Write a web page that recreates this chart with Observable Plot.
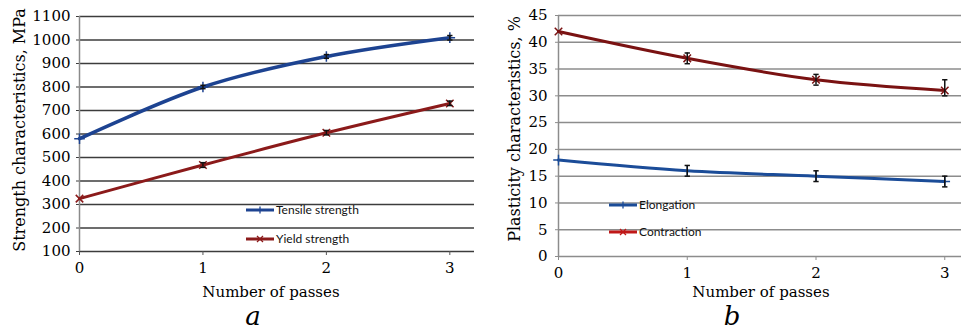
<!DOCTYPE html>
<html><head><meta charset="utf-8">
<script src="https://cdn.jsdelivr.net/npm/d3@7"></script>
<script src="https://cdn.jsdelivr.net/npm/@observablehq/plot@0.6"></script>
<style>
body{margin:0;background:#fff;}
#wrap{position:relative;width:961px;height:331px;overflow:hidden;background:#fff;}
.abs{position:absolute;white-space:nowrap;line-height:1;}
.serif{font-family:"DejaVu Serif",serif;color:#000;}
.ylab{transform:translate(-50%,-50%) rotate(-90deg);font-size:16px;}
.ctr{transform:translate(-50%,-50%);}
.leg{font-family:Lato,sans-serif;font-size:12px;color:#111;transform:translateY(-50%);}
.letter{font-style:italic;font-size:26px;line-height:0.8;}
</style></head>
<body><div id="wrap"></div>
<script>
// ---- data ----
const passes = [0, 1, 2, 3];
const xTicks = [0, 1, 2, 3];
const yTicksA = [100, 200, 300, 400, 500, 600, 700, 800, 900, 1000, 1100];
const yTicksB = [0, 5, 10, 15, 20, 25, 30, 35, 40, 45];

const tensile   = [580, 800, 930, 1010];
const tensileLo = [580, 793, 922, 1000];
const tensileHi = [580, 807, 938, 1019];
const yieldS    = [325, 468, 605, 730];
const yieldLo   = [325, 458, 596, 721];
const yieldHi   = [325, 478, 615, 740];

const elongation   = [18, 16, 15, 14];
const elongationLo = [18, 15, 14, 13];
const elongationHi = [18, 17, 16, 15];
const contraction   = [42, 37, 33, 31];
const contractionLo = [42, 36, 32, 30];
const contractionHi = [42, 38, 34, 33];

const seriesA = ["Tensile strength", "Yield strength"];
const seriesB = ["Elongation", "Contraction"];
const colorsA = ["#1d4391", "#8b1a1a"];
const colorsB = ["#1b4c98", "#7a1212"];

const rows = (vals, lo, hi, name) => passes.map((p, i) => ({p, v: vals[i], lo: lo[i], hi: hi[i], s: name}));
const tRows = rows(tensile, tensileLo, tensileHi, seriesA[0]);
const yRows = rows(yieldS, yieldLo, yieldHi, seriesA[1]);
const eRows = rows(elongation, elongationLo, elongationHi, seriesB[0]);
const cRows = rows(contraction, contractionLo, contractionHi, seriesB[1]);

const cap = {draw(ctx, size) { const r = Math.sqrt(size) / 2; ctx.moveTo(-r, 0); ctx.lineTo(r, 0); }};

function seriesMarks(data, color, sym, width) {
  const err = data.filter(d => d.hi > d.lo);
  return [
    Plot.lineY(data, {x: "p", y: "v", stroke: color, strokeWidth: width, curve: "catmull-rom"}),
    Plot.dot(data, {x: "p", y: "v", symbol: sym, r: 3.5, stroke: color, strokeWidth: 1.5}),
    Plot.ruleX(err, {x: "p", y1: "lo", y2: "hi", stroke: "#111", strokeWidth: 1.5}),
    Plot.dot(err, {x: "p", y: "lo", symbol: cap, r: 3, stroke: "#111", strokeWidth: 1.5}),
    Plot.dot(err, {x: "p", y: "hi", symbol: cap, r: 3, stroke: "#111", strokeWidth: 1.5})
  ];
}

const baseStyle = {fontFamily: "DejaVu Serif", fontSize: "15px", color: "#000", background: "transparent", overflow: "visible", position: "absolute", top: "0px"};

const plotA = Plot.plot({
  width: 480, height: 331, marginLeft: 79, marginRight: 6, marginTop: 16, marginBottom: 80,
  style: {...baseStyle, left: "0px"},
  x: {domain: [0, 3.2]},
  y: {domain: [100, 1100]},
  marks: [
    Plot.gridY(yTicksA, {stroke: "#3c3c3c", strokeOpacity: 1, strokeWidth: 1.6}),
    Plot.axisY(yTicksA, {tickSize: 3, tickPadding: 6, stroke: "#3c3c3c", label: null, fontSize: 15, tickFormat: d => String(d)}),
    Plot.axisX(xTicks, {tickSize: 4, tickPadding: 7, stroke: "#555", label: null, fontSize: 15, tickFormat: d => String(d)}),
    Plot.ruleX([0], {stroke: "#8a8a8a", strokeWidth: 1.5}),
    ...seriesMarks(yRows, colorsA[1], "times", 3),
    ...seriesMarks(tRows, colorsA[0], "plus", 3.5)
  ]
});

const plotB = Plot.plot({
  width: 481, height: 331, marginLeft: 78, marginRight: 0, marginTop: 15, marginBottom: 75,
  style: {...baseStyle, left: "480px"},
  x: {domain: [0, 3.13]},
  y: {domain: [0, 45]},
  marks: [
    Plot.gridY(yTicksB, {stroke: "#8c8c8c", strokeOpacity: 1, strokeWidth: 1.5}),
    Plot.axisY(yTicksB, {tickSize: 3, tickPadding: 8, stroke: "#8c8c8c", label: null, fontSize: 15, tickFormat: d => String(d)}),
    Plot.axisX(xTicks, {tickSize: 4, tickPadding: 7, stroke: "#8c8c8c", label: null, fontSize: 15, tickFormat: d => String(d)}),
    Plot.ruleX([0], {stroke: "#8c8c8c", strokeWidth: 1.5}),
    ...seriesMarks(cRows, colorsB[1], "times", 3),
    ...seriesMarks(eRows, colorsB[0], "plus", 3)
  ]
});

const wrap = document.getElementById("wrap");
wrap.appendChild(plotA);
wrap.appendChild(plotB);

function addDiv(cls, text, x, y) {
  const d = document.createElement("div");
  d.className = "abs " + cls;
  d.textContent = text;
  d.style.left = x + "px";
  d.style.top = y + "px";
  wrap.appendChild(d);
  return d;
}
addDiv("serif ylab", "Strength characteristics, MPa", 20, 130);
addDiv("serif ctr", "Number of passes", 271, 292).style.fontSize = "15px";
addDiv("serif ctr letter", "a", 253, 316);
addDiv("serif ylab", "Plasticity characteristics, %", 515, 129);
addDiv("serif ctr", "Number of passes", 761, 292).style.fontSize = "15px";
addDiv("serif ctr letter", "b", 732, 316);

function legendItem(x0, x1, y, color, sym, label) {
  const ns = "http://www.w3.org/2000/svg";
  const s = document.createElementNS(ns, "svg");
  s.setAttribute("width", x1 - x0); s.setAttribute("height", 10);
  s.style.position = "absolute"; s.style.left = x0 + "px"; s.style.top = (y - 5) + "px";
  const w = x1 - x0;
  s.innerHTML = `<line x1="0" x2="${w}" y1="5" y2="5" stroke="${color}" stroke-width="3"/>` +
    (sym === "times"
      ? `<path d="M${w/2-3},2L${w/2+3},8M${w/2-3},8L${w/2+3},2" stroke="${color}" stroke-width="1.3"/>`
      : `<path d="M${w/2},1.5V8.5" stroke="${color}" stroke-width="1.3"/>`);
  wrap.appendChild(s);
  addDiv("leg", label, x1 + 2, y);
}
legendItem(246, 274, 210, colorsA[0], "plus", seriesA[0]);
legendItem(246, 274, 239, colorsA[1], "times", seriesA[1]);
legendItem(609, 637, 205, colorsB[0], "plus", seriesB[0]);
legendItem(609, 637, 232, "#c01818", "times", seriesB[1]);
</script>
</body></html>
